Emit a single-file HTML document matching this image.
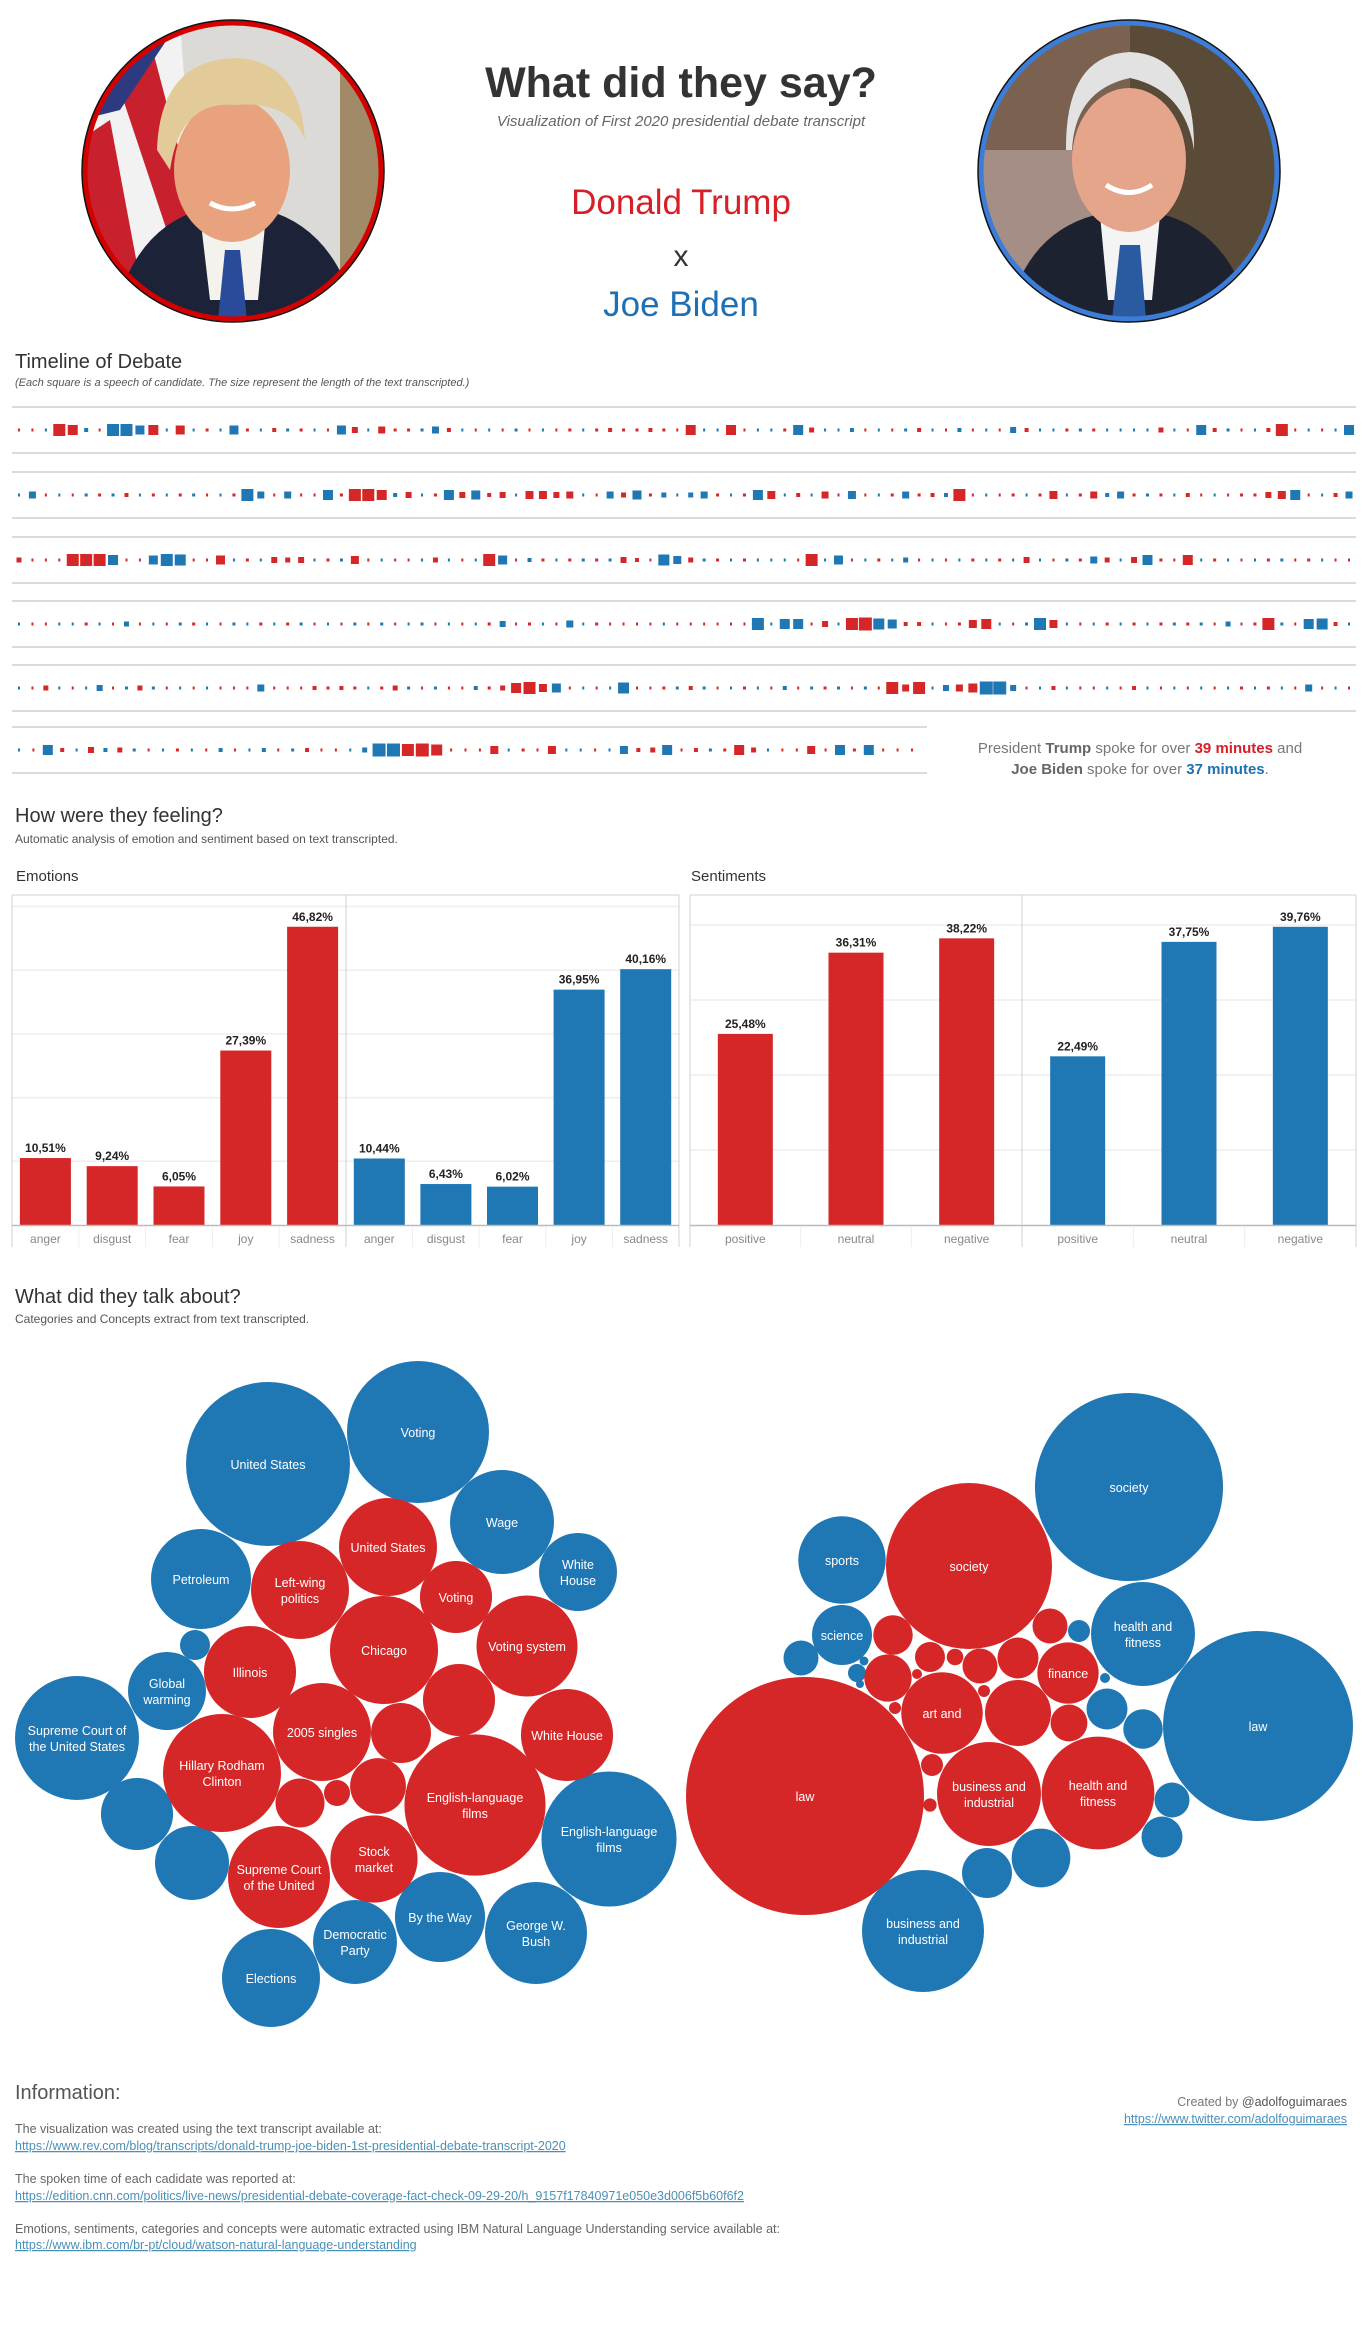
<!DOCTYPE html>
<html><head><meta charset="utf-8">
<style>
html,body{margin:0;padding:0;background:#fff;}
svg{display:block;font-family:"Liberation Sans",sans-serif;}
</style></head>
<body>
<svg id="page" xmlns="http://www.w3.org/2000/svg" width="1362" height="2343" viewBox="0 0 1362 2343">
<defs>
<clipPath id="clipT"><circle cx="233" cy="171" r="146"/></clipPath>
<clipPath id="clipB"><circle cx="1129" cy="171" r="146"/></clipPath>
</defs>
<g>
<g clip-path="url(#clipT)">
<rect x="80" y="20" width="310" height="310" fill="#dcdad6"/>
<rect x="340" y="20" width="50" height="310" fill="#a08a68"/>
<polygon points="80,20 180,20 200,300 80,300" fill="#f2f2f2"/>
<polygon points="110,60 150,40 200,230 170,240" fill="#c8202c"/>
<polygon points="80,140 110,120 140,280 90,300" fill="#c8202c"/>
<polygon points="80,20 180,20 120,110 80,120" fill="#2d3a80"/>
<path d="M110 330 Q130 230 200 210 L266 210 Q340 230 360 330 Z" fill="#1c2338"/>
<polygon points="200,215 266,215 258,300 210,300" fill="#f4f2ec"/>
<polygon points="225,250 240,250 247,320 218,320" fill="#2a4a9a"/>
<ellipse cx="232" cy="170" rx="58" ry="72" fill="#e8a27e"/>
<path d="M157 150 Q160 60 235 58 Q300 60 305 140 Q290 100 235 105 Q180 100 170 170 Z" fill="#e2cb98"/>
<path d="M210 203 Q232 215 255 203" stroke="#fff" stroke-width="5" fill="none"/>
</g>
<circle cx="233" cy="171" r="148" fill="none" stroke="#d40000" stroke-width="5"/>
<circle cx="233" cy="171" r="151" fill="none" stroke="#111" stroke-width="1.5"/>
</g>
<g>
<g clip-path="url(#clipB)">
<rect x="979" y="20" width="300" height="310" fill="#7a6150"/>
<rect x="979" y="150" width="140" height="180" fill="#a48e86"/>
<rect x="1130" y="20" width="150" height="310" fill="#5a4a38"/>
<path d="M1005 330 Q1020 235 1095 215 L1165 215 Q1235 235 1255 330 Z" fill="#1d2230"/>
<polygon points="1100,215 1160,215 1152,300 1108,300" fill="#f4f4f4"/>
<polygon points="1120,245 1140,245 1146,320 1112,320" fill="#2a5aa0"/>
<ellipse cx="1129" cy="160" rx="57" ry="72" fill="#e4a58a"/>
<path d="M1066 150 Q1065 55 1130 52 Q1195 55 1194 150 Q1185 90 1130 78 Q1075 90 1072 150 Z" fill="#e2e2e2"/>
<path d="M1106 185 Q1129 200 1152 185" stroke="#fff" stroke-width="5" fill="none"/>
</g>
<circle cx="1129" cy="171" r="148" fill="none" stroke="#3b7dd8" stroke-width="5"/>
<circle cx="1129" cy="171" r="151" fill="none" stroke="#111" stroke-width="1.5"/>
</g>
<text x="681" y="97" text-anchor="middle" font-size="43" font-weight="bold" fill="#333">What did they say?</text>
<text x="681" y="126" text-anchor="middle" font-size="15" font-style="italic" fill="#666">Visualization of First 2020 presidential debate transcript</text>
<text x="681" y="214" text-anchor="middle" font-size="35" fill="#d61f26">Donald Trump</text>
<text x="681" y="266" text-anchor="middle" font-size="30" fill="#333">x</text>
<text x="681" y="316" text-anchor="middle" font-size="35" fill="#1f6fb4">Joe Biden</text>
<text x="15" y="368" font-size="20" fill="#333">Timeline of Debate</text>
<text x="15" y="386" font-size="11" font-style="italic" fill="#555">(Each square is a speech of candidate. The size represent the length of the text transcripted.)</text>
<g id="timeline"></g>
<text x="1140" y="753" text-anchor="middle" font-size="15" fill="#777">President <tspan font-weight="bold" fill="#666">Trump</tspan> spoke for over <tspan font-weight="bold" fill="#d61f26">39 minutes</tspan> and</text>
<text x="1140" y="774" text-anchor="middle" font-size="15" fill="#777"><tspan font-weight="bold" fill="#666">Joe Biden</tspan> spoke for over <tspan font-weight="bold" fill="#1f6fb4">37 minutes</tspan>.</text>
<text x="15" y="822" font-size="20" fill="#333">How were they feeling?</text>
<text x="15" y="843" font-size="12" fill="#555">Automatic analysis of emotion and sentiment based on text transcripted.</text>
<text x="16" y="881" font-size="15" fill="#333">Emotions</text>
<text x="691" y="881" font-size="15" fill="#333">Sentiments</text>
<g id="emotions"></g>
<g id="sentiments"></g>
<text x="15" y="1303" font-size="20" fill="#333">What did they talk about?</text>
<text x="15" y="1323" font-size="12" fill="#555">Categories and Concepts extract from text transcripted.</text>
<g id="concepts"></g>
<g id="categories"></g>
<text x="15" y="2099" font-size="20" fill="#555">Information:</text>
<g font-size="12.5" fill="#666">
<text x="15" y="2133">The visualization was created using the text transcript available at:</text>
<text x="15" y="2150" fill="#4a90b8" text-decoration="underline">https://www.rev.com/blog/transcripts/donald-trump-joe-biden-1st-presidential-debate-transcript-2020</text>
<text x="15" y="2183">The spoken time of each cadidate was reported at:</text>
<text x="15" y="2200" fill="#4a90b8" text-decoration="underline">https://edition.cnn.com/politics/live-news/presidential-debate-coverage-fact-check-09-29-20/h_9157f17840971e050e3d006f5b60f6f2</text>
<text x="15" y="2233">Emotions, sentiments, categories and concepts were automatic extracted using IBM Natural Language Understanding service available at:</text>
<text x="15" y="2249" fill="#4a90b8" text-decoration="underline">https://www.ibm.com/br-pt/cloud/watson-natural-language-understanding</text>
</g>
<text x="1347" y="2106" text-anchor="end" font-size="12.5" fill="#777">Created by <tspan fill="#555">@adolfoguimaraes</tspan></text>
<text x="1347" y="2123" text-anchor="end" font-size="12.5" fill="#4a90b8" text-decoration="underline">https://www.twitter.com/adolfoguimaraes</text>
</svg>
<script>
const NS = "http://www.w3.org/2000/svg";
const RED = "#d62728", BLUE = "#1f77b4";

const timelineRow1 = "r2 r2 b2 r12 r10 b4 r2 b12 b12 b9 r10 b2 r9 b2 r3 b2 b9 r3 b2 r4 b3 r3 b2 r2 b9 r6 b2 r7 r3 r3 b3 b7 r4 b2 r2 b2 r2 b3 r2 b2 r2 r3 b2 r3 r4 r3 r3 r4 r3 r2 r10 b2 b2 r10 r2 b2 b2 r3 b10 r5 b2 b2 b4 r2 b2 r2 b3 r4 b2 r2 b4 r2 b2 r2 b6 r4 b2 b2 r3 b3 r3 b2 b2 b2 b2 r5 b2 r2 b10 r4 b3 r2 b2 r4 r12 r2 b2 r2 b2 b10".split(" ");
const timelineRow2 = "b2 b7 r2 b2 r2 b3 r3 b3 r4 b2 r3 b2 r3 b3 r2 b2 r3 b12 b7 r2 b7 r2 r2 b10 r3 r12 r12 r10 b4 r6 b2 r3 b10 r6 b9 r4 r6 b2 r8 r8 r6 r7 b2 r2 b7 r5 b9 r3 b5 b2 b5 b7 r3 b2 r3 b10 r8 b2 r4 b2 r7 r2 b8 r2 b2 r3 b7 r3 r4 b4 r12 r2 b2 r2 r3 b2 r3 r8 b2 r3 r7 b4 b7 r3 b3 r3 b2 r4 r2 b2 r2 r3 r3 r6 r8 b10 r2 b2 r4 b7".split(" ");
const timelineRow3 = "r5 r2 r2 r2 r12 r12 r12 b10 r2 r2 b9 b12 b11 r2 r2 r9 b2 r3 b2 r6 r5 r6 b2 r3 b3 r8 r2 b2 r2 r2 b2 r5 b2 r2 b2 r12 b9 r2 b4 r3 b2 r3 b3 r3 b3 r6 r4 r2 b11 b8 r5 b3 r3 b2 r3 b2 b2 b2 r2 r12 b2 b9 r2 b2 r3 b2 b5 r2 b2 r2 b2 r3 b2 r3 b2 r6 b2 r2 b3 r3 b7 r5 b2 r6 b10 r3 r2 r10 b2 r3 b2 r2 b2 r3 b3 r2 r3 b2 r2 r2".split(" ");
const timelineRow4 = "b2 r2 r2 b2 b2 r3 b2 r2 b5 r2 b2 r2 b3 r3 b2 r2 b3 b2 r3 b2 r3 b3 r2 b2 r2 b3 r2 b3 r2 b2 b3 r2 b2 r2 b2 r3 b6 r2 r3 b2 r2 b7 b2 r3 r2 r2 r2 r2 b2 r2 r2 r2 r2 r2 r2 b12 b2 b10 b10 r2 r6 b2 r12 r13 b11 b9 r4 r4 b2 r2 r3 r8 r10 b2 r2 b3 b12 r8 b2 r2 b2 r3 b2 r3 b2 r3 b3 r3 b3 r2 b5 r2 r3 r12 b3 r2 b10 b11 r4 b2".split(" ");
const timelineRow5 = "b2 r2 r5 b2 r2 b2 b6 r2 b3 r5 b3 r2 b2 r2 b2 r2 r2 r2 b7 r2 r2 r2 r4 r3 r4 r3 b2 r3 r5 b3 r2 b3 r2 r2 b4 r3 r5 r10 r12 r8 b9 r2 b2 r2 b2 b11 r2 r2 r3 b3 r4 b3 r2 b2 r3 b2 r2 b4 r2 b3 r3 b3 r2 b3 r2 r12 r7 r12 b2 b6 r7 r9 b13 b13 b6 r2 b2 r4 b2 r2 r2 b2 r2 r4 b2 r2 b2 r2 b2 r2 b2 r3 b2 r3 b2 r2 b7 r2 b2 r2".split(" ");
const timelineRow6 = "b2 r2 b10 r4 b2 r6 b4 r5 b3 r2 b2 r3 b2 r2 b4 r2 b2 b4 r2 b3 r4 r2 r2 b2 b5 b13 b13 r12 r13 r11 r2 r2 r2 r8 b2 r3 r2 r8 b2 b2 r2 b2 b8 r4 r5 b10 r2 r4 b3 r3 r10 r5 b2 r2 r2 r8 r2 b10 r3 b10 r2 r2 r2".split(" ");
const timelineRows = [timelineRow1, timelineRow2, timelineRow3, timelineRow4, timelineRow5, timelineRow6];

const emotionCategories = ["anger","disgust","fear","joy","sadness"];
const trumpEmotions = [10.51, 9.24, 6.05, 27.39, 46.82];
const bidenEmotions = [10.44, 6.43, 6.02, 36.95, 40.16];
const sentimentCategories = ["positive","neutral","negative"];
const trumpSentiments = [25.48, 36.31, 38.22];
const bidenSentiments = [22.49, 37.75, 39.76];
const emotionTicks = [10,20,30,40,50];
const sentimentTicks = [10,20,30,40];

const conceptLabels = ["United States","Voting","Wage","White\nHouse","Petroleum","","Global\nwarming","Supreme Court of\nthe United States","","","Elections","Democratic\nParty","By the Way","George W.\nBush","English-language\nfilms",
 "United States","Left-wing\npolitics","Voting","Chicago","Voting system","Illinois","","White House","2005 singles","","Hillary Rodham\nClinton","","","","English-language\nfilms","Stock\nmarket","Supreme Court\nof the United"];
const conceptSpeaker = ["b","b","b","b","b","b","b","b","b","b","b","b","b","b","b","r","r","r","r","r","r","r","r","r","r","r","r","r","r","r","r","r"];
const conceptValues = [67.2,50.4,27,15.2,25,2.25,15.2,38.4,13,13.7,24,17.6,20.3,26,45.6, 24,24,13,29.2,25.5,21.2,13,21.2,24,9,34.8,6,1.7,7.8,49.8,19,26];
const conceptLayout = [[268,1464],[418,1432],[502,1522],[578,1572],[201,1579],[195,1645],[167,1691],[77,1738],[137,1814],[192,1863],[271,1978],[355,1942],[440,1917],[536,1933],[609,1839],
 [388,1547],[300,1590],[456,1597],[384,1650],[527,1646],[250,1672],[459,1700],[567,1735],[322,1732],[401,1733],[222,1773],[300,1803],[337,1793],[378,1786],[475,1805],[374,1859],[279,1877]];

const categoryLabels = ["society","sports","science","","","","","health and\nfitness","","","","","law","","","","","business and\nindustrial",
 "society","law","","","","","","","","finance","","","","art and","","","","","business and\nindustrial","health and\nfitness"];
const categorySpeaker = ["b","b","b","b","b","b","b","b","b","b","b","b","b","b","b","b","b","b","r","r","r","r","r","r","r","r","r","r","r","r","r","r","r","r","r","r","r","r"];
const categoryValues = [88.4,19.1,9,3.06,0.81,0.2,0.16,27,1.21,0.25,4.2,3.9,90.2,3.06,4.2,8.6,6.25,37.2,
 68.9,141.6,3.9,5.6,2.25,0.69,3.06,4.2,3.06,9.4,0.25,0.36,0.36,16.6,10.9,3.4,1.21,0.44,27,31.8];
const categoryLayout = [[1129,1487],[842,1560],[842,1635],[801,1658],[857,1673],[864,1661],[860,1684],[1143,1634],[1079,1631],[1105,1678],[1107,1709],[1143,1729],[1258,1726],[1172,1800],[1162,1837],[1041,1858],[987,1873],[923,1931],
 [969,1566],[805,1796],[893,1635],[888,1678],[930,1657],[955,1657],[980,1666],[1018,1658],[1050,1626],[1068,1673],[917,1674],[984,1691],[895,1708],[942,1713],[1018,1713],[1069,1723],[932,1765],[930,1805],[989,1794],[1098,1793]];

function mk(tag, attrs, parent){
  const el = document.createElementNS(NS, tag);
  for (const k in attrs) el.setAttribute(k, attrs[k]);
  parent.appendChild(el);
  return el;
}

(function(){
  const g = document.getElementById("timeline");
  const rowCenters = [430,495,560,624,688,750];
  const rowEnds = [1349,1349,1349,1349,1349,912];
  timelineRows.forEach((row, ri) => {
    const cy = rowCenters[ri];
    const x2 = ri === 5 ? 927 : 1356;
    const step = (rowEnds[ri] - 19) / (row.length - 1);
    [cy-23, cy+23].forEach((ly, li) => {
      const l = mk("line", {x1:12, x2:x2, y1:ly, y2:ly, stroke:"#cfcfcf", "stroke-width":1.5}, g);
      
      
    });
    row.forEach((tok, i) => {
      const sp = tok[0];
      const len = parseFloat(tok.slice(1));
      const w = Math.max(len, 1.8);
      const h = Math.max(len, 3);
      const cx = 19 + i * step;
      const r = mk("rect", {x:cx - w/2, y:cy - h/2, width:w, height:h, fill: sp === "r" ? RED : BLUE}, g);
      
      
    });
  });
})();

function fmt(v){ return v.toFixed(2).replace(".", ","); }
function barPanel(g, x0, x1, cats, vals, color, scale, barW, who){
  const cell = (x1 - x0) / cats.length;
  cats.forEach((c, i) => {
    const v = vals[i];
    const cx = x0 + cell*(i+0.5);
    const top = 1225 - v*scale;
    const b = mk("rect", {x:cx-barW/2, y:top, width:barW, height:v*scale, fill:color}, g);
    
    
    const t = mk("text", {x:cx, y:top-6, "text-anchor":"middle", "font-size":12, "font-weight":"bold", fill:"#222"}, g);
    t.textContent = fmt(v) + "%";
    
    
    const a = mk("text", {x:cx, y:1243, "text-anchor":"middle", "font-size":12, fill:"#888"}, g);
    a.textContent = c;
    
    
    if (i > 0) {
      const s = mk("line", {x1:x0+cell*i, x2:x0+cell*i, y1:1227, y2:1247, stroke:"#eee"}, g);
      
      
    }
  });
}
function chartFrame(g, x0, xm, x1, ticks, scale){
  ticks.forEach(t => {
    const y = 1225 - t*scale;
    const l = mk("line", {x1:x0, x2:x1, y1:y, y2:y, stroke:"#eeeeee", "stroke-width":1.5}, g);
    
    
  });
  [[x0,x1,895,895],[x0,x0,895,1247],[xm,xm,895,1247],[x1,x1,895,1247]].forEach(p => {
    const l = mk("line", {x1:p[0], x2:p[1], y1:p[2], y2:p[3], stroke:"#d0d0d0"}, g);
    
    
  });
}
(function(){
  const ge = document.getElementById("emotions");
  chartFrame(ge, 12, 346, 679, emotionTicks, 6.37);
  barPanel(ge, 12, 346, emotionCategories, trumpEmotions, RED, 6.37, 51, "trump-emotion");
  barPanel(ge, 346, 679, emotionCategories, bidenEmotions, BLUE, 6.37, 51, "biden-emotion");
  const be = mk("line", {x1:12, x2:679, y1:1225.5, y2:1225.5, stroke:"#bbb", "stroke-width":1.5}, ge);
  
  
  const gs = document.getElementById("sentiments");
  chartFrame(gs, 690, 1022, 1356, sentimentTicks, 7.5);
  barPanel(gs, 690, 1022, sentimentCategories, trumpSentiments, RED, 7.5, 55, "trump-sentiment");
  barPanel(gs, 1022, 1356, sentimentCategories, bidenSentiments, BLUE, 7.5, 55, "biden-sentiment");
  const bs = mk("line", {x1:690, x2:1356, y1:1225.5, y2:1225.5, stroke:"#bbb", "stroke-width":1.5}, gs);
  
  
})();

function bubbles(g, labels, speakers, values, layout, prefix){
  values.forEach((v, i) => {
    const r = 10*Math.sqrt(v);
    const [cx, cy] = layout[i];
    const c = mk("circle", {cx:cx, cy:cy, r:r, fill: speakers[i] === "r" ? RED : BLUE}, g);
    
    
    if (labels[i]) {
      const lines = labels[i].split("\n");
      lines.forEach((ln, k) => {
        const t = mk("text", {x:cx, y:cy + 5 + (k - (lines.length-1)/2)*16, "text-anchor":"middle", "font-size":12.5, fill:"#fff"}, g);
        t.textContent = ln;
        
        
      });
    }
  });
}
bubbles(document.getElementById("concepts"), conceptLabels, conceptSpeaker, conceptValues, conceptLayout, "concept");
bubbles(document.getElementById("categories"), categoryLabels, categorySpeaker, categoryValues, categoryLayout, "category");
</script>
</body></html>
